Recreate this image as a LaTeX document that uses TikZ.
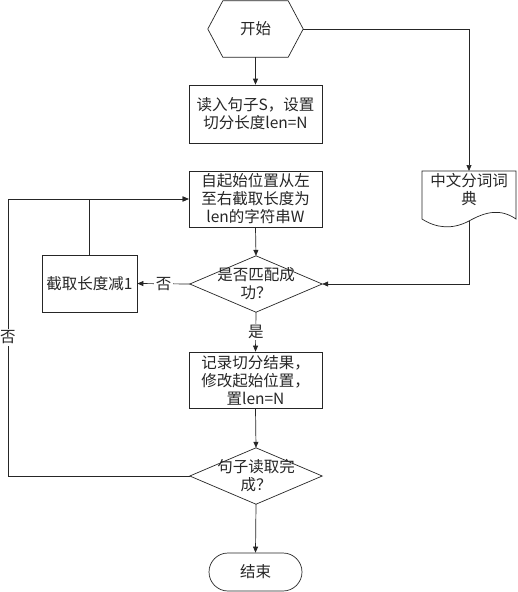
\documentclass[tikz,border=0pt]{standalone}
\usepackage{fontspec}
\setmainfont{Noto Sans CJK SC}
\usetikzlibrary{arrows.meta}
\newcommand{\cnfont}{\fontsize{15.5pt}{18pt}\selectfont}
\begin{document}
\begin{tikzpicture}[x=1pt,y=-1pt,
  line/.style={draw=black!85, line width=0.7pt},
  arr/.style={line, -{Triangle[length=6pt,width=5pt]}},
  box/.style={draw=black!85, line width=0.7pt, minimum width=133pt, inner sep=0pt, align=center, font=\cnfont, text=black!85},
  ghost/.style={inner sep=0pt, align=center, font=\cnfont, text=black!85},
  lbl/.style={fill=white, inner sep=1.5pt, font=\cnfont, text=black!85}]
\useasboundingbox[fill=white] (0,0) rectangle (517,592);

% start hexagon
\node[ghost, minimum width=95pt, minimum height=56pt] (start) at (255.5,29) {开始};
\draw[line] (start.west) -- ([xshift=15pt]start.north west) -- ([xshift=-15pt]start.north east)
  -- (start.east) -- ([xshift=-15pt]start.south east) -- ([xshift=15pt]start.south west) -- cycle;

% boxes
\node[box, minimum height=58pt] (read) at (255.5,114) {读入句子S，设置\\切分长度len=N};
\node[box, minimum height=56pt] (cut3) at (255.5,199) {自起始位置从左\\至右截取长度为\\len的字符串W};

% dictionary (document shape)
\node[ghost, anchor=north, minimum width=94pt, inner sep=2pt] (dict) at (469,171) {中文分词词\\典};
\draw[line] (422,171) -- (516,171) -- (516,219)
  .. controls (500,208) and (485,212) .. (469,221)
  .. controls (452,230) and (436,228) .. (422,219) -- cycle;
\coordinate (dictbot) at (469,221);

% decision 1
\node[ghost, minimum width=132pt, minimum height=56pt] (d1) at (256,284) {是否匹配成\\功？};
\draw[line] (d1.west) -- (d1.north) -- (d1.east) -- (d1.south) -- cycle;

% decrement box
\node[box, minimum width=95pt, minimum height=57pt] (dec) at (89.5,283.5) {截取长度减1};

% record box
\node[box, minimum height=56pt] (rec) at (255.5,380) {记录切分结果，\\修改起始位置，\\置len=N};

% decision 2
\node[ghost, minimum width=132pt, minimum height=56pt] (d2) at (256,476) {句子读取完\\成？};
\draw[line] (d2.west) -- (d2.north) -- (d2.east) -- (d2.south) -- cycle;

% end terminal
\node[draw=black!85, line width=0.7pt, rounded corners=19pt, minimum width=93pt, minimum height=38pt,
  inner sep=0pt, font=\cnfont, text=black!85] (end) at (255.5,572) {结束};

% connectors
\coordinate (lc) at (8,476);
\draw[arr] (start.south) -- (read.north);
\draw[arr] (start.east) -| (dict.north);
\draw[arr] (cut3.south) -- (d1.north);
\draw[arr] (dictbot) |- (d1.east);
\draw[arr] (d1.west) -- node[lbl]{否} (dec.east);
\draw[arr] (dec.north) |- (cut3.west);
\draw[arr] (d1.south) -- node[lbl]{是} (rec.north);
\draw[arr] (rec.south) -- (d2.north);
\draw[arr] (d2.west) -- (lc) |- node[lbl, pos=0.25]{否} (cut3.west);
\draw[arr] (d2.south) -- (end.north);
\end{tikzpicture}
\end{document}
